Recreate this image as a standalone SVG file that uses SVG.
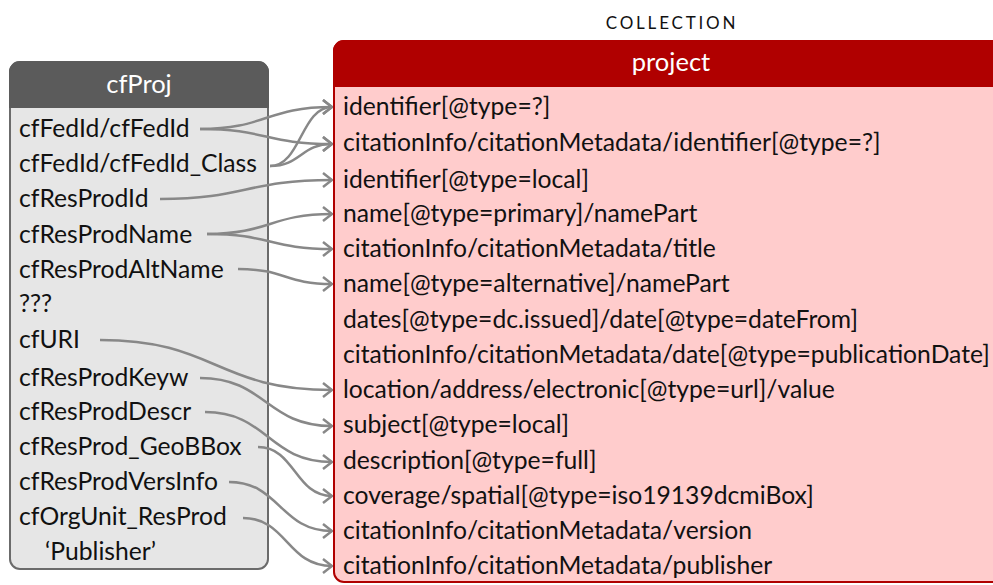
<svg xmlns="http://www.w3.org/2000/svg" width="993" height="585" viewBox="0 0 993 585">
  <defs>
    <style>
      .t { font-family: Lato, "Open Sans", "Liberation Sans", sans-serif; font-size: 24.7px; fill: #111; }
      .hd { font-family: Lato, "Open Sans", "Liberation Sans", sans-serif; font-size: 25.5px; fill: #fff; text-anchor: middle; }
      .cap { font-family: Lato, "Open Sans", "Liberation Sans", sans-serif; font-size: 17px; fill: #111; letter-spacing: 2.8px; text-anchor: middle; }
      .link { fill: none; stroke: #888; stroke-width: 2.5; marker-end: url(#chev); }
    </style>
    <marker id="chev" markerUnits="userSpaceOnUse" viewBox="0 0 12 16" markerWidth="12" markerHeight="16" refX="11" refY="8" orient="auto">
      <path d="M2,1 L11,8 L2,15" fill="none" stroke="#888" stroke-width="2.5"/>
    </marker>
  </defs>

  <rect width="993" height="585" fill="#fff"/>

  <!-- source entity -->
  <g id="cfProj">
    <rect x="10" y="62" width="258" height="507" rx="10" fill="#e6e6e6" stroke="#6b6b6b" stroke-width="2"/>
    <path d="M10,107 V72 A10,10 0 0 1 20,62 H258 A10,10 0 0 1 268,72 V107 Z" fill="#5b5b5b" stroke="#5b5b5b" stroke-width="2"/>
    <text class="hd" x="139" y="93">cfProj</text>
    <text class="t" x="19" y="137">cfFedId/cfFedId</text>
    <text class="t" x="19" y="172">cfFedId/cfFedId_Class</text>
    <text class="t" x="19" y="207">cfResProdId</text>
    <text class="t" x="19" y="243">cfResProdName</text>
    <text class="t" x="19" y="278">cfResProdAltName</text>
    <text class="t" x="19" y="312">???</text>
    <text class="t" x="19" y="348">cfURI</text>
    <text class="t" x="19" y="386">cfResProdKeyw</text>
    <text class="t" x="19" y="420">cfResProdDescr</text>
    <text class="t" x="19" y="455">cfResProd_GeoBBox</text>
    <text class="t" x="19" y="490">cfResProdVersInfo</text>
    <text class="t" x="19" y="525">cfOrgUnit_ResProd</text>
    <text class="t" x="45" y="560">‘Publisher’</text>
  </g>

  <!-- target collection -->
  <g id="project">
    <text class="cap" x="672" y="29">COLLECTION</text>
    <path d="M1010,41 H344 A10,10 0 0 0 334,51 V572 A10,10 0 0 0 344,582 H1010 Z" fill="#ffcccc" stroke="#b00000" stroke-width="2"/>
    <path d="M1010,86 H334 V51 A10,10 0 0 1 344,41 H1010 Z" fill="#b00000" stroke="#b00000" stroke-width="2"/>
    <text class="hd" x="671" y="71">project</text>
    <text class="t" x="343" y="115">identifier[@type=?]</text>
    <text class="t" x="343" y="151">citationInfo/citationMetadata/identifier[@type=?]</text>
    <text class="t" x="343" y="188">identifier[@type=local]</text>
    <text class="t" x="343" y="222">name[@type=primary]/namePart</text>
    <text class="t" x="343" y="257">citationInfo/citationMetadata/title</text>
    <text class="t" x="343" y="292">name[@type=alternative]/namePart</text>
    <text class="t" x="343" y="328">dates[@type=dc.issued]/date[@type=dateFrom]</text>
    <text class="t" x="343" y="363">citationInfo/citationMetadata/date[@type=publicationDate]</text>
    <text class="t" x="343" y="398">location/address/electronic[@type=url]/value</text>
    <text class="t" x="343" y="433">subject[@type=local]</text>
    <text class="t" x="343" y="469">description[@type=full]</text>
    <text class="t" x="343" y="504">coverage/spatial[@type=iso19139dcmiBox]</text>
    <text class="t" x="343" y="539">citationInfo/citationMetadata/version</text>
    <text class="t" x="343" y="574">citationInfo/citationMetadata/publisher</text>
  </g>

  <!-- field mappings -->
  <g id="links">
    <path class="link" d="M200,129 C266,129 266,107 332,107"/>
    <path class="link" d="M200,129 C266,129 266,144 332,144"/>
    <path class="link" d="M270,166 C301,166 301,107 332,107"/>
    <path class="link" d="M270,166 C301,166 301,144 332,144"/>
    <path class="link" d="M160,199 C246,199 246,180 332,180"/>
    <path class="link" d="M207,234 C270,234 270,214 332,214"/>
    <path class="link" d="M207,234 C270,234 270,249 332,249"/>
    <path class="link" d="M238,269 C285,269 285,284 332,284"/>
    <path class="link" d="M100,340 C216,340 216,390 332,390"/>
    <path class="link" d="M200,378 C266,378 266,426 332,426"/>
    <path class="link" d="M205,412 C268,412 268,462 332,462"/>
    <path class="link" d="M258,447 C295,447 295,496 332,496"/>
    <path class="link" d="M229,482 C280,482 280,531 332,531"/>
    <path class="link" d="M243,518 C287,518 287,566 332,566"/>
  </g>
</svg>
